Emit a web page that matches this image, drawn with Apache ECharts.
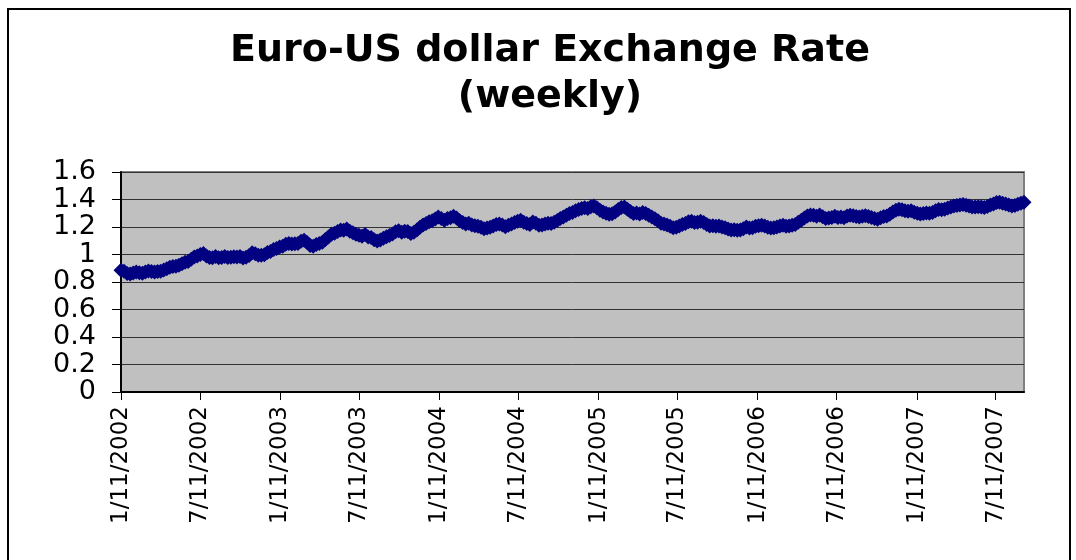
<!DOCTYPE html>
<html>
<head>
<meta charset="utf-8">
<script src="https://cdn.jsdelivr.net/npm/echarts@6/dist/echarts.min.js"></script>
<style>
  html, body { margin: 0; padding: 0; background: #fff; }
  #chart { width: 1076px; height: 560px; }
</style>
</head>
<body>
<div id="chart"></div>
<script>
// weekly series starts on this Friday
const startDate = [2002, 0, 11]

// euro in US dollars, one value per week
const rates = [
  0.885, 0.878, 0.862, 0.858, 0.866, 0.872, 0.868, 0.864, 0.873, 0.880, 0.877, 0.872, 0.876,
  0.879, 0.888, 0.897, 0.908, 0.912, 0.914, 0.921, 0.932, 0.943, 0.950, 0.965, 0.982, 0.990,
  1.000, 1.008, 0.990, 0.978, 0.977, 0.985, 0.977, 0.979, 0.986, 0.978, 0.980, 0.983, 0.981,
  0.985, 0.975, 0.980, 0.992, 1.012, 1.005, 0.995, 0.994, 0.998, 1.015, 1.022, 1.036, 1.043,
  1.055, 1.060, 1.074, 1.080, 1.077, 1.078, 1.080, 1.096, 1.103, 1.088, 1.065, 1.060, 1.072,
  1.080, 1.090, 1.110, 1.128, 1.148, 1.155, 1.168, 1.178, 1.176, 1.185, 1.170, 1.158, 1.148,
  1.140, 1.132, 1.145, 1.128, 1.124, 1.108, 1.098, 1.105, 1.118, 1.130, 1.138, 1.150, 1.165,
  1.172, 1.162, 1.170, 1.168, 1.152, 1.162, 1.178, 1.198, 1.215, 1.225, 1.238, 1.245, 1.258,
  1.272, 1.262, 1.250, 1.262, 1.268, 1.278, 1.265, 1.245, 1.232, 1.222, 1.228, 1.215, 1.210,
  1.205, 1.198, 1.188, 1.192, 1.198, 1.208, 1.218, 1.222, 1.215, 1.202, 1.212, 1.222, 1.232,
  1.242, 1.250, 1.235, 1.225, 1.218, 1.236, 1.228, 1.212, 1.215, 1.222, 1.228, 1.226, 1.235,
  1.248, 1.262, 1.272, 1.285, 1.298, 1.305, 1.318, 1.328, 1.335, 1.340, 1.335, 1.348, 1.352,
  1.340, 1.322, 1.310, 1.300, 1.292, 1.296, 1.310, 1.328, 1.342, 1.345, 1.330, 1.312, 1.298,
  1.302, 1.295, 1.305, 1.298, 1.285, 1.272, 1.260, 1.245, 1.228, 1.222, 1.215, 1.205, 1.195,
  1.198, 1.208, 1.218, 1.225, 1.238, 1.242, 1.232, 1.235, 1.242, 1.232, 1.218, 1.208, 1.210,
  1.205, 1.208, 1.200, 1.195, 1.185, 1.178, 1.180, 1.176, 1.178, 1.188, 1.200, 1.192, 1.195,
  1.205, 1.210, 1.212, 1.208, 1.198, 1.192, 1.195, 1.200, 1.208, 1.212, 1.205, 1.208, 1.212,
  1.218, 1.235, 1.250, 1.265, 1.280, 1.288, 1.285, 1.278, 1.288, 1.275, 1.262, 1.265, 1.270,
  1.278, 1.270, 1.272, 1.268, 1.280, 1.286, 1.282, 1.276, 1.272, 1.278, 1.282, 1.276, 1.270,
  1.262, 1.256, 1.268, 1.276, 1.280, 1.292, 1.310, 1.322, 1.330, 1.325, 1.318, 1.315, 1.318,
  1.308, 1.300, 1.295, 1.298, 1.302, 1.300, 1.306, 1.318, 1.328, 1.326, 1.330, 1.338, 1.345,
  1.352, 1.356, 1.360, 1.364, 1.358, 1.352, 1.346, 1.345, 1.348, 1.345, 1.342, 1.350, 1.360,
  1.368, 1.378, 1.380, 1.372, 1.368, 1.360, 1.352, 1.356, 1.365, 1.372, 1.380
]

// x axis labels, every six months
const tickLabels = [
  '1/11/2002', '7/11/2002', '1/11/2003', '7/11/2003', '1/11/2004', '7/11/2004',
  '1/11/2005', '7/11/2005', '1/11/2006', '7/11/2006', '1/11/2007', '7/11/2007'
]

const yTicks = [0, 0.2, 0.4, 0.6, 0.8, 1, 1.2, 1.4, 1.6]

const DAY = 24 * 3600 * 1000

// days counted from the first week, so the x axis is a plain value axis
const dayOf = (y, m, d) => Math.round((Date.UTC(y, m, d) - Date.UTC(startDate[0], startDate[1], startDate[2])) / DAY)

const parseMDY = (s) => {
  const [m, d, y] = s.split('/').map(Number)
  return dayOf(y, m - 1, d)
}

const points = rates.map((v, i) => [7 * i, v])
const tickValues = tickLabels.map(parseMDY)

const chart = echarts.init(document.getElementById('chart'))

const option = {
  backgroundColor: '#fff',
  animation: false,
  textStyle: { fontFamily: 'DejaVu Sans' },
  title: {
    text: 'Euro-US dollar Exchange Rate\n(weekly)',
    left: 545,
    top: 23,
    textAlign: 'center',
    textStyle: {
      fontFamily: 'DejaVu Sans',
      fontWeight: 'bold',
      fontSize: 38,
      lineHeight: 46,
      color: '#000'
    }
  },
  graphic: [
    {
      type: 'rect',
      shape: { x: 8, y: 9, width: 1062, height: 600 },
      style: { fill: 'none', stroke: '#000', lineWidth: 2 },
      silent: true
    }
  ],
  grid: {
    left: 121,
    right: 52,
    top: 172,
    bottom: 168,
    show: true,
    backgroundColor: '#c0c0c0',
    borderColor: '#808080',
    borderWidth: 2
  },
  xAxis: {
    type: 'value',
    min: 0,
    max: 7 * (rates.length - 1),
    axisLine: { show: true, lineStyle: { color: '#000', width: 2 } },
    axisTick: {
      show: true,
      length: 8,
      customValues: tickValues,
      lineStyle: { color: '#000', width: 1 }
    },
    axisLabel: {
      customValues: tickValues,
      rotate: 90,
      margin: 14,
      fontSize: 23,
      color: '#000',
      formatter: (val) => tickLabels[tickValues.indexOf(val)] || ''
    },
    splitLine: { show: false }
  },
  yAxis: {
    type: 'value',
    min: yTicks[0],
    max: yTicks[yTicks.length - 1],
    interval: 0.2,
    axisLine: { show: true, lineStyle: { color: '#000', width: 2 } },
    axisTick: { show: true, length: 9, lineStyle: { color: '#000' } },
    axisLabel: {
      margin: 25,
      fontSize: 27,
      color: '#000',
      showMinLabel: true,
      showMaxLabel: true,
      hideOverlap: false,
      formatter: (val) => String(+val.toFixed(1))
    },
    splitLine: { lineStyle: { color: '#333', width: 1 } }
  },
  series: [
    {
      name: 'EUR/USD',
      type: 'line',
      data: points,
      symbol: 'diamond',
      symbolSize: 15,
      showAllSymbol: true,
      clip: false,
      itemStyle: { color: '#000080' },
      lineStyle: { color: '#000080', width: 3 }
    }
  ]
}

chart.setOption(option)
</script>
</body>
</html>
